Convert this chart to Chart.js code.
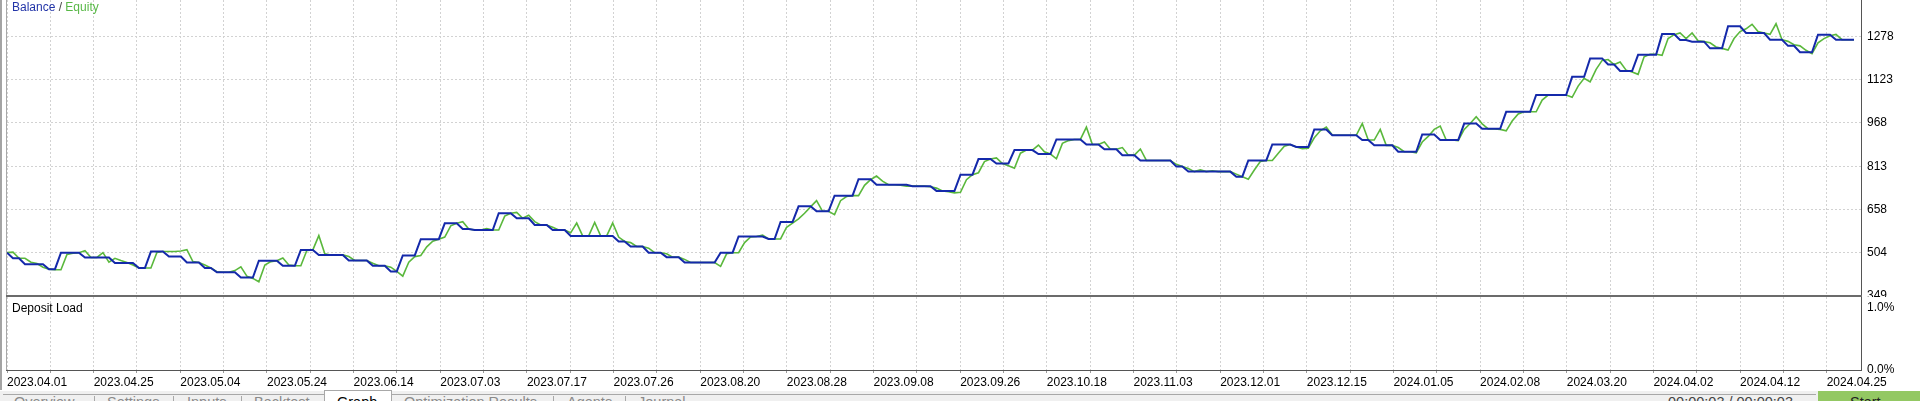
<!DOCTYPE html>
<html>
<head>
<meta charset="utf-8">
<script src="https://cdn.jsdelivr.net/npm/chart.js"></script>
<style>
  body { margin: 0; width: 1920px; height: 401px; overflow: hidden; background: #fff; position: relative; font-family: "Liberation Sans", Arial, sans-serif; }
  canvas { position: absolute; left: 0; }
  .bar { position: absolute; left: 0; top: 391px; width: 1920px; height: 10px; background: #f0f0f0; }
  .tab { position: absolute; top: 393px; font-size: 14.5px; line-height: 18px; color: #8a8a8a; white-space: nowrap; }
  .sep { position: absolute; top: 396px; width: 1px; height: 5px; background: #a8a8a8; }
  .hl { position: absolute; height: 1px; background: #a8a8a8; }
</style>
</head>
<body>
<canvas id="equityChart" width="1920" height="297" style="top:0"></canvas>
<canvas id="loadChart" width="1920" height="93" style="top:297px"></canvas>
<div style="position:absolute;left:0;top:0;width:2px;height:390px;background:#a4a4a4"></div>

<div class="bar"></div>
<div class="hl" style="left:3px;top:394px;width:321px"></div>
<div class="hl" style="left:391px;top:394px;width:1425px"></div>
<div style="position:absolute;left:324px;top:390px;width:66px;height:11px;background:#fff;border:1px solid #a8a8a8;border-bottom:none"></div>
<span class="tab" style="left:14px">Overview</span>
<div class="sep" style="left:94px"></div>
<span class="tab" style="left:107px">Settings</span>
<div class="sep" style="left:173px"></div>
<span class="tab" style="left:187px">Inputs</span>
<div class="sep" style="left:241px"></div>
<span class="tab" style="left:254px">Backtest</span>
<span class="tab" style="left:337px;color:#000">Graph</span>
<span class="tab" style="left:404px">Optimization Results</span>
<div class="sep" style="left:553px"></div>
<span class="tab" style="left:567px">Agents</span>
<div class="sep" style="left:625px"></div>
<span class="tab" style="left:638px">Journal</span>
<span class="tab" style="left:1668px;color:#444">00:00:03 / 00:00:03</span>
<div style="position:absolute;left:1818px;top:391px;width:102px;height:10px;background:#93c863"></div>
<span class="tab" style="left:1850px;color:#222">Start</span>

<script>
// balance and equity per deal (deal index on x axis)
const balance = [
  504,484,484,463,463,463,463,445,445,504,
  504,504,504,487,487,487,487,487,467,467,
  467,467,449,449,508,508,508,490,490,490,
  469,469,469,449,449,434,434,434,434,415,
  415,415,475,475,475,475,457,457,457,514,
  514,514,496,496,496,496,496,476,476,476,
  476,457,457,457,437,437,494,494,494,552,
  552,552,552,609,609,609,589,589,585,585,
  585,585,645,645,645,627,627,627,603,603,
  603,585,585,585,564,564,564,564,564,564,
  564,564,544,544,526,526,526,504,504,504,
  488,488,488,469,469,469,469,469,469,504,
  504,504,562,562,562,562,562,553,553,614,
  614,614,670,670,670,652,652,652,708,708,
  708,708,767,767,767,747,747,747,747,747,
  747,742,742,742,742,725,725,725,725,783,
  783,783,839,839,839,823,823,823,871,871,
  871,871,857,857,857,909,909,909,909,909,
  891,891,891,874,874,874,853,853,853,834,
  834,834,834,834,834,812,812,794,794,794,
  794,794,794,794,794,776,776,834,834,834,
  834,891,891,891,891,882,882,882,945,945,
  945,924,924,924,924,924,907,907,888,888,
  888,888,865,865,865,865,927,927,927,907,
  907,907,907,966,966,966,947,947,947,947,
  1008,1008,1008,1008,1008,1068,1068,1068,1068,1068,
  1068,1133,1133,1133,1199,1199,1199,1177,1177,1154,
  1154,1154,1212,1212,1212,1212,1286,1286,1286,1265,
  1265,1259,1259,1259,1235,1235,1235,1314,1314,1314,
  1290,1290,1290,1290,1266,1266,1266,1244,1244,1221,
  1221,1221,1284,1284,1284,1266,1266,1266,1266
];

const equity = [
  504,506,484,484,470,465,452,445,443,443,
  498,502,504,511,487,487,504,470,484,476,
  469,460,449,449,449,505,508,508,508,510,
  515,472,469,460,449,436,434,434,440,453,
  420,412,400,460,472,475,485,460,457,457,
  512,514,565,500,496,496,496,490,476,476,
  476,466,457,457,452,437,420,470,490,494,
  525,545,552,560,600,609,615,589,585,585,
  590,585,585,635,645,648,627,638,615,603,
  603,595,585,585,575,610,564,564,612,564,
  564,610,560,544,540,526,526,520,504,504,
  500,488,488,480,469,469,469,469,469,455,
  500,504,504,540,560,562,567,553,553,553,
  595,610,625,645,668,690,652,652,640,690,
  705,708,708,745,765,778,760,747,747,745,
  742,742,742,742,740,735,725,722,718,720,
  765,783,790,830,839,843,823,815,806,860,
  871,871,889,865,857,840,895,905,909,909,
  953,891,891,900,874,874,880,853,853,875,
  834,834,834,834,834,820,812,805,794,800,
  794,797,794,794,794,785,776,767,800,830,
  834,834,860,885,891,882,876,878,915,940,
  953,925,924,924,924,924,966,907,907,945,
  888,888,880,865,865,861,900,920,945,957,
  907,907,905,945,966,990,965,947,947,945,
  940,975,1000,1008,1008,1008,1050,1068,1068,1068,
  1068,1060,1100,1128,1115,1160,1192,1195,1177,1186,
  1157,1150,1142,1205,1214,1214,1210,1270,1284,1290,
  1270,1290,1262,1259,1255,1240,1235,1229,1270,1295,
  1305,1321,1295,1290,1285,1323,1266,1260,1248,1244,
  1228,1216,1255,1270,1280,1285,1266,1266,1266
];

const balanceTicks = [349, 504, 658, 813, 968, 1123, 1278];
const loadTicks = [0, 1];
const dateLabels = [
  "2023.04.01","2023.04.25","2023.05.04","2023.05.24","2023.06.14","2023.07.03",
  "2023.07.17","2023.07.26","2023.08.20","2023.08.28","2023.09.08","2023.09.26",
  "2023.10.18","2023.11.03","2023.12.01","2023.12.15","2024.01.05","2024.02.08",
  "2024.03.20","2024.04.02","2024.04.12","2024.04.25"
];

const BLUE = "#1429aa";
const GREEN = "#5ab83c";
const xMax = 309.17;
const labelStep = 14.45; // deals between two date labels

const gridValues = [];
for (let k = 0; k * labelStep / 2 <= xMax; k++) gridValues.push(k * labelStep / 2);

Chart.defaults.font.family = "'Liberation Sans', Arial, sans-serif";
Chart.defaults.font.size = 12;
Chart.defaults.color = "#000";

const gridStyle = { color: "#d2d2d2", lineWidth: 1, drawTicks: false };
const noPad = s => { s.paddingTop = 0; s.paddingBottom = 0; s.paddingLeft = 0; s.paddingRight = 0; };

const frameTop = {
  id: "frameTop",
  afterDraw(chart) {
    const { ctx, chartArea: a } = chart;
    ctx.save();
    ctx.fillStyle = "#a8a8a8";
    ctx.fillRect(6, a.top, 1, a.bottom - a.top);
    ctx.fillStyle = "#555";
    ctx.fillRect(a.right, a.top, 1, a.bottom - a.top);
    ctx.fillStyle = "#6b6b6b";
    ctx.fillRect(6, a.bottom - 1, a.right - 5, 2);
    ctx.font = "12px 'Liberation Sans', Arial, sans-serif";
    ctx.textBaseline = "middle";
    let x = 12;
    ctx.fillStyle = "#2335a8";
    ctx.fillText("Balance", x, 8);
    x += ctx.measureText("Balance ").width;
    ctx.fillStyle = "#444";
    ctx.fillText("/", x, 8);
    x += ctx.measureText("/ ").width;
    ctx.fillStyle = "#58b846";
    ctx.fillText("Equity", x, 8);
    ctx.restore();
  }
};

new Chart(document.getElementById("equityChart"), {
  type: "line",
  data: {
    datasets: [
      {
        label: "Balance",
        data: balance.map((v, i) => ({ x: i, y: v })),
        borderColor: BLUE,
        borderWidth: 2,
        pointRadius: 0,
        order: 1,
      },
      {
        label: "Equity",
        data: equity.map((v, i) => ({ x: i, y: v })),
        borderColor: GREEN,
        borderWidth: 1.6,
        pointRadius: 0,
        order: 2,
      },
    ],
  },
  options: {
    responsive: false,
    animation: false,
    layout: { padding: { left: 7, top: 0, right: 0, bottom: 1 } },
    plugins: { legend: { display: false }, tooltip: { enabled: false } },
    scales: {
      x: {
        type: "linear",
        min: 0,
        max: xMax,
        grid: gridStyle,
        border: { display: false, dash: [2, 2] },
        ticks: { display: false },
        afterBuildTicks: s => { s.ticks = gridValues.map(v => ({ value: v })); },
        afterFit: s => { s.height = 0; noPad(s); },
      },
      y: {
        position: "right",
        min: 349,
        max: 1408,
        grid: gridStyle,
        border: { display: false, dash: [2, 2] },
        ticks: { padding: 6, callback: v => String(v) },
        afterBuildTicks: s => { s.ticks = balanceTicks.map(v => ({ value: v })); },
        afterFit: s => { s.width = 59; noPad(s); },
      },
    },
  },
  plugins: [frameTop],
});

const frameBottom = {
  id: "frameBottom",
  afterDraw(chart) {
    const { ctx, chartArea: a } = chart;
    ctx.save();
    ctx.fillStyle = "#a8a8a8";
    ctx.fillRect(6, 0, 1, a.bottom);
    ctx.fillStyle = "#555";
    ctx.fillRect(a.right, 0, 1, a.bottom + 1);
    ctx.fillRect(6, a.bottom, a.right - 5, 1);
    ctx.font = "12px 'Liberation Sans', Arial, sans-serif";
    ctx.textBaseline = "middle";
    ctx.fillStyle = "#000";
    ctx.fillText("Deposit Load", 12, 12);
    ctx.restore();
  }
};

new Chart(document.getElementById("loadChart"), {
  type: "line",
  data: { datasets: [] },
  options: {
    responsive: false,
    animation: false,
    layout: { padding: { left: 7, top: 0, right: 0, bottom: 0 } },
    plugins: { legend: { display: false }, tooltip: { enabled: false } },
    scales: {
      x: {
        type: "linear",
        min: 0,
        max: xMax,
        grid: { color: "#d2d2d2", lineWidth: 1, drawTicks: true, tickLength: 3, tickColor: "#999" },
        border: { display: false, dash: [2, 2] },
        ticks: {
          align: "start",
          padding: 2,
          autoSkip: false,
          maxRotation: 0,
          callback: (v, i) => (i % 2 === 0 ? dateLabels[i / 2] || "" : ""),
        },
        afterBuildTicks: s => { s.ticks = gridValues.map(v => ({ value: v })); },
        afterFit: s => { s.height = 20; noPad(s); },
      },
      y: {
        position: "right",
        min: 0,
        max: 1.17,
        grid: { display: false, drawTicks: false },
        border: { display: false },
        ticks: { padding: 6, callback: v => v.toFixed(1) + "%" },
        afterBuildTicks: s => { s.ticks = loadTicks.map(v => ({ value: v })); },
        afterFit: s => { s.width = 59; noPad(s); },
      },
    },
  },
  plugins: [frameBottom],
});
</script>
</body>
</html>
